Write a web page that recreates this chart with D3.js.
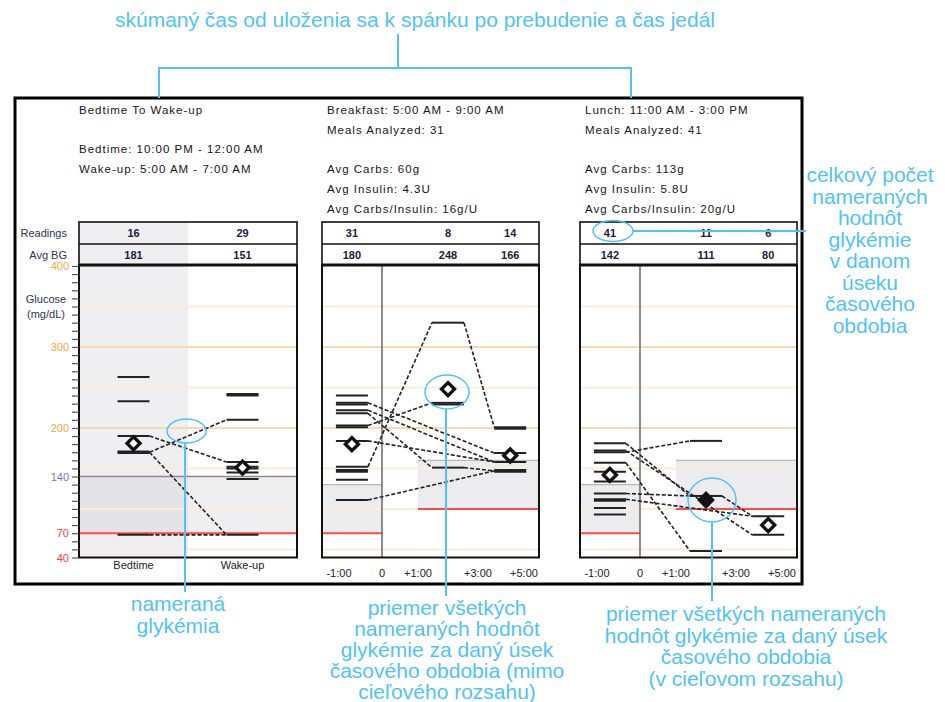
<!DOCTYPE html>
<html>
<head>
<meta charset="utf-8">
<script src="https://cdn.jsdelivr.net/npm/d3@7"></script>
<style>
  body { margin: 0; background: #fff; }
</style>
</head>
<body>
<svg id="chart" width="945" height="702"></svg>
<script>
const fontFamily = "'Liberation Sans', Arial, Helvetica, sans-serif";
const ink = "#222";
const blue = "#4fc3f7";

// ---- data ----
const yLabels = [400, 300, 200, 140, 70, 40];
const gridStrong = [200, 300];
const gridLight = [50, 100, 150, 250, 350];

// bedtime -> wake-up
const sleepCols = ["Bedtime", "Wake-up"];
const sleepReadings = [16, 29];
const sleepAvg = [181, 151];
const bedtimeBG = [263, 233, 190, 171, 169, 68];
const wakeupBG = [242, 240, 210, 158, 152, 150, 145, 137, 68];
const sleepLinks = [[190, 158], [170, 210], [170, 68], [68, 68]];

// meal panels: columns pre-meal, +1..3h, +3..5h
const timeTicks = [-1, 0, 1, 3, 5];
const timeLabels = ["-1:00", "0", "+1:00", "+3:00", "+5:00"];
const mealColTimes = [-0.7, 2, 4.4];

const breakfastInfo = ["Breakfast: 5:00 AM - 9:00 AM", "Meals Analyzed: 31", "Avg Carbs: 60g", "Avg Insulin: 4.3U", "Avg Carbs/Insulin: 16g/U"];
const breakfastReadings = [31, 8, 14];
const breakfastAvg = [180, 248, 166];
const breakfastPre = [240, 231, 229, 222, 218, 203, 201, 184, 152, 148, 146, 136, 111];
const breakfastPost1 = [330, 231, 229, 151];
const breakfastPost2 = [201, 199, 169, 158, 148, 146];
const breakfastLinks = [
  [152, 330, 201],
  [231, null, 169],
  [222, null, 158],
  [218, 151, 147],
  [203, 231, null],
  [184, null, 158],
  [111, null, 147]
];

const lunchInfo = ["Lunch: 11:00 AM - 3:00 PM", "Meals Analyzed: 41", "Avg Carbs: 113g", "Avg Insulin: 5.8U", "Avg Carbs/Insulin: 20g/U"];
const lunchReadings = [41, 11, 6];
const lunchAvg = [142, 111, 80];
const lunchPre = [181, 172, 170, 157, 146, 134, 119, 112, 110, 101, 93];
const lunchPost1 = [184, 116, 48];
const lunchPost2 = [91, 68];
const lunchLinks = [
  [170, 184, null],
  [181, 116, 91],
  [172, null, 68],
  [157, 48, null],
  [119, 116, null],
  [112, null, 91]
];

const sleepInfo = ["Bedtime To Wake-up", "", "Bedtime: 10:00 PM - 12:00 AM", "Wake-up: 5:00 AM - 7:00 AM"];

// annotations
const topNote = "skúmaný čas od uloženia sa k spánku po prebudenie a čas jedál";
const sideNote = ["celkový počet", "nameraných", "hodnôt", "glykémie", "v danom", "úseku", "časového", "obdobia"];
const noteReading = ["nameraná", "glykémia"];
const noteOutside = ["priemer všetkých", "nameraných hodnôt", "glykémie za daný úsek", "časového obdobia (mimo", "cieľového rozsahu)"];
const noteInside = ["priemer všetkých nameraných", "hodnôt glykémie za daný úsek", "časového obdobia", "(v cieľovom rozsahu)"];

// ---- layout ----
const svg = d3.select("#chart");
const tableTop = 222, rowMid = 244, plotTop = 265, plotBottom = 557.5;
const y = d3.scaleLinear().domain([40, 400]).range([plotBottom, 266]);
const barHalf = 16;

const panels = {
  sleep: { x: 79, w: 218 },
  breakfast: { x: 322, w: 217 },
  lunch: { x: 580, w: 217 }
};

function diamond(g, cx, cy, filled) {
  const r = 6.5;
  g.append("path")
    .attr("d", `M${cx - r},${cy}L${cx},${cy - r}L${cx + r},${cy}L${cx},${cy + r}Z`)
    .attr("fill", filled ? "#111" : "#fff")
    .attr("stroke", "#111")
    .attr("stroke-width", 3.4)
    .attr("stroke-linejoin", "miter");
}

function gridLines(g, p) {
  gridLight.forEach(v => {
    g.append("line").attr("x1", p.x).attr("x2", p.x + p.w).attr("y1", y(v)).attr("y2", y(v))
      .attr("stroke", "#fcecd9").attr("stroke-width", 2);
  });
  gridStrong.forEach(v => {
    g.append("line").attr("x1", p.x).attr("x2", p.x + p.w).attr("y1", y(v)).attr("y2", y(v))
      .attr("stroke", "#f8d9b0").attr("stroke-width", 2);
  });
}

function bars(g, cx, values) {
  values.forEach(v => {
    g.append("line")
      .attr("x1", cx - barHalf).attr("x2", cx + barHalf)
      .attr("y1", y(v)).attr("y2", y(v))
      .attr("stroke", ink).attr("stroke-width", 2);
  });
}

function links(g, centers, list) {
  list.forEach(row => {
    const pts = row.map((v, i) => v == null ? null : [centers[i], v]).filter(d => d);
    for (let i = 0; i < pts.length - 1; i++) {
      const a = pts[i], b = pts[i + 1];
      g.append("line")
        .attr("x1", a[0] + barHalf).attr("y1", y(a[1]))
        .attr("x2", b[0] - barHalf).attr("y2", y(b[1]))
        .attr("stroke", ink).attr("stroke-width", 1.6)
        .attr("stroke-dasharray", "4,2");
    }
  });
}

function table(g, p, centers, readings, avg) {
  g.append("rect").attr("x", p.x).attr("y", tableTop).attr("width", p.w).attr("height", plotTop - tableTop)
    .attr("fill", "none").attr("stroke", "#111").attr("stroke-width", 1.6);
  g.append("line").attr("x1", p.x).attr("x2", p.x + p.w).attr("y1", rowMid).attr("y2", rowMid)
    .attr("stroke", "#111").attr("stroke-width", 1.6);
  centers.forEach((cx, i) => {
    g.append("text").attr("x", cx).attr("y", (tableTop + rowMid) / 2 + 4)
      .attr("text-anchor", "middle").attr("font-family", fontFamily).attr("font-size", "11px")
      .attr("font-weight", "700").attr("fill", "#1c1c3c").text(readings[i]);
    g.append("text").attr("x", cx).attr("y", (rowMid + plotTop) / 2 + 4)
      .attr("text-anchor", "middle").attr("font-family", fontFamily).attr("font-size", "11px")
      .attr("font-weight", "700").attr("fill", "#1c1c3c").text(avg[i]);
  });
  g.append("rect").attr("x", p.x).attr("y", plotTop).attr("width", p.w).attr("height", plotBottom - plotTop)
    .attr("fill", "none").attr("stroke", "#111").attr("stroke-width", 2);
  g.append("line").attr("x1", p.x).attr("x2", p.x + p.w).attr("y1", plotTop).attr("y2", plotTop)
    .attr("stroke", "#111").attr("stroke-width", 3);
}

function infoText(g, p, lines, ys) {
  lines.forEach((t, i) => {
    if (!t) return;
    g.append("text").attr("x", p.x + (p === panels.sleep ? 0 : 5)).attr("y", ys[i])
      .attr("font-family", fontFamily).attr("font-size", "11.5px").attr("fill", "#151515")
      .attr("letter-spacing", "1px")
      .text(t);
  });
}

// ---- sleep panel ----
{
  const p = panels.sleep;
  const g = svg.append("g");
  const xb = d3.scaleBand().domain(sleepCols).range([p.x, p.x + p.w]);
  const centers = sleepCols.map(c => xb(c) + xb.bandwidth() / 2);

  // bedtime column shading (table + plot)
  g.append("rect").attr("x", xb("Bedtime")).attr("y", tableTop).attr("width", xb.bandwidth())
    .attr("height", plotBottom - tableTop).attr("fill", "#efeff1");
  // target band
  g.append("rect").attr("x", xb("Bedtime")).attr("y", y(140)).attr("width", xb.bandwidth())
    .attr("height", y(70) - y(140)).attr("fill", "#e4e4e8");
  g.append("rect").attr("x", xb("Wake-up")).attr("y", y(140)).attr("width", xb.bandwidth())
    .attr("height", y(70) - y(140)).attr("fill", "#efeff1");
  gridLines(g, p);
  g.append("line").attr("x1", p.x).attr("x2", p.x + p.w).attr("y1", y(140)).attr("y2", y(140))
    .attr("stroke", "#8a8a8a").attr("stroke-width", 1.5);
  g.append("line").attr("x1", p.x).attr("x2", p.x + p.w).attr("y1", y(70)).attr("y2", y(70))
    .attr("stroke", "#ff4848").attr("stroke-width", 2);

  bars(g, centers[0], bedtimeBG);
  bars(g, centers[1], wakeupBG);
  links(g, centers, sleepLinks);
  sleepAvg.forEach((v, i) => diamond(g, centers[i], y(v), v >= 70 && v <= 140));

  table(g, p, centers, sleepReadings, sleepAvg);

  // row labels
  g.append("text").attr("x", 67).attr("y", (tableTop + rowMid) / 2 + 4).attr("text-anchor", "end")
    .attr("font-family", fontFamily).attr("font-size", "11px").attr("fill", "#2b3450").text("Readings");
  g.append("text").attr("x", 67).attr("y", (rowMid + plotTop) / 2 + 4).attr("text-anchor", "end")
    .attr("font-family", fontFamily).attr("font-size", "11px").attr("fill", "#2b3450").text("Avg BG");

  // y axis
  const axis = d3.axisLeft(y)
    .tickValues(d3.range(40, 401, 10))
    .tickSize(7)
    .tickPadding(3)
    .tickFormat(d => yLabels.includes(d) ? d : "");
  const ag = g.append("g").attr("transform", `translate(${p.x},0)`).call(axis);
  ag.select(".domain").remove();
  ag.selectAll(".tick line").attr("stroke", "#555").attr("stroke-width", 1.2);
  ag.selectAll(".tick text")
    .attr("font-family", fontFamily).attr("font-size", "11px")
    .attr("fill", d => d >= 200 ? "#f0a848" : d === 140 ? "#6f7bb0" : "#ff3b3b");
  g.append("text").attr("x", 46).attr("y", 303).attr("text-anchor", "middle")
    .attr("font-family", fontFamily).attr("font-size", "11px").attr("fill", "#2b3450").text("Glucose");
  g.append("text").attr("x", 46).attr("y", 318).attr("text-anchor", "middle")
    .attr("font-family", fontFamily).attr("font-size", "11px").attr("fill", "#2b3450").text("(mg/dL)");

  sleepCols.forEach((c, i) => {
    g.append("text").attr("x", centers[i]).attr("y", 569).attr("text-anchor", "middle")
      .attr("font-family", fontFamily).attr("font-size", "11px").attr("fill", ink).text(c);
  });
  infoText(g, p, sleepInfo, [114, 133, 153, 173]);
}

// ---- meal panels ----
function mealPanel(p, info, readings, avg, cols, linkList) {
  const g = svg.append("g");
  const x = d3.scaleLinear().domain(timeTicks).range([17, 60, 96, 156, 202].map(v => p.x + v));
  const centers = mealColTimes.map(t => x(t));

  // target bands
  g.append("rect").attr("x", p.x).attr("y", y(130)).attr("width", x(0) - p.x)
    .attr("height", y(70) - y(130)).attr("fill", "#ececef");
  g.append("rect").attr("x", x(1)).attr("y", y(160)).attr("width", p.x + p.w - x(1))
    .attr("height", y(100) - y(160)).attr("fill", "#ececef");
  gridLines(g, p);
  g.append("line").attr("x1", p.x).attr("x2", x(0)).attr("y1", y(130)).attr("y2", y(130))
    .attr("stroke", "#b8b8bc").attr("stroke-width", 1.2);
  g.append("line").attr("x1", p.x).attr("x2", x(0)).attr("y1", y(70)).attr("y2", y(70))
    .attr("stroke", "#ff4848").attr("stroke-width", 2);
  g.append("line").attr("x1", x(1)).attr("x2", p.x + p.w).attr("y1", y(160)).attr("y2", y(160))
    .attr("stroke", "#b8b8bc").attr("stroke-width", 1.2);
  g.append("line").attr("x1", x(1)).attr("x2", p.x + p.w).attr("y1", y(100)).attr("y2", y(100))
    .attr("stroke", "#ff4848").attr("stroke-width", 2);
  g.append("line").attr("x1", x(0)).attr("x2", x(0)).attr("y1", plotTop).attr("y2", plotBottom)
    .attr("stroke", "#707070").attr("stroke-width", 1.6);

  cols.forEach((vals, i) => bars(g, centers[i], vals));
  links(g, centers, linkList);
  avg.forEach((v, i) => {
    const inRange = i === 0 ? (v >= 70 && v <= 130) : (v >= 100 && v <= 160);
    diamond(g, centers[i], y(v), inRange);
  });

  table(g, p, centers, readings, avg);

  timeTicks.forEach((t, i) => {
    g.append("text").attr("x", x(t)).attr("y", 577).attr("text-anchor", "middle")
      .attr("font-family", fontFamily).attr("font-size", "11px").attr("fill", ink).text(timeLabels[i]);
  });
  infoText(g, p, info, [114, 134, 173, 193, 213]);
}

mealPanel(panels.breakfast, breakfastInfo, breakfastReadings, breakfastAvg,
  [breakfastPre, breakfastPost1, breakfastPost2], breakfastLinks);
mealPanel(panels.lunch, lunchInfo, lunchReadings, lunchAvg,
  [lunchPre, lunchPost1, lunchPost2], lunchLinks);

// outer frame
svg.append("rect").attr("x", 15).attr("y", 98).attr("width", 787).attr("height", 486)
  .attr("fill", "none").attr("stroke", "#000").attr("stroke-width", 3);

// ---- annotations ----
const ann = svg.append("g");
function noteLines(lines, cx, y0, step) {
  lines.forEach((t, i) => {
    ann.append("text").attr("x", cx).attr("y", y0 + i * step).attr("text-anchor", "middle")
      .attr("font-family", fontFamily).attr("font-size", "21px").attr("fill", blue).text(t);
  });
}
function seg(x1, y1, x2, y2) {
  ann.append("line").attr("x1", x1).attr("y1", y1).attr("x2", x2).attr("y2", y2)
    .attr("stroke", blue).attr("stroke-width", 2);
}
function ring(cx, cy, rx, ry) {
  ann.append("ellipse").attr("cx", cx).attr("cy", cy).attr("rx", rx).attr("ry", ry)
    .attr("fill", "none").attr("stroke", blue).attr("stroke-width", 1.5);
}

noteLines([topNote], 415, 27, 0);
seg(398, 34, 398, 68);
seg(158, 68, 632, 68);
seg(159, 67, 159, 98);
seg(631, 67, 631, 98);

ring(613, 231, 20, 10.5);
seg(633, 231, 806, 231);
noteLines(sideNote, 870, 182, 21.5);

ring(186.5, 431, 19.5, 12);
seg(185, 443, 185, 592);
noteLines(noteReading, 178, 611, 22);

ring(447, 392, 22, 17);
seg(446, 409, 446, 596);
noteLines(noteOutside, 447, 615, 21);

ring(712, 500, 24, 22);
seg(712, 522, 712, 601);
noteLines(noteInside, 746, 621, 21.5);
</script>
</body>
</html>
